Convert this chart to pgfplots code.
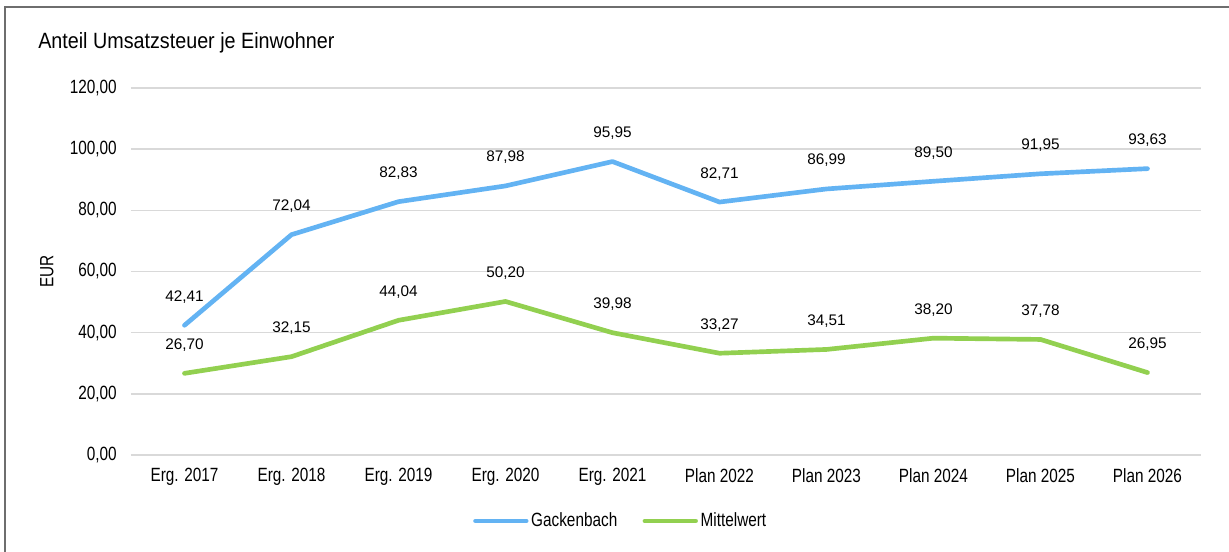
\documentclass[border=0pt]{standalone}
\usepackage{fontspec}
\setmainfont{Liberation Sans}
\usepackage{graphicx}
\usepackage{pgfplots}
\pgfplotsset{compat=1.18}
\usepackage{pgfplotstable}
\definecolor{gblue}{RGB}{99,179,243}
\definecolor{mgreen}{RGB}{146,208,80}
\definecolor{gridgray}{RGB}{217,217,217}
\definecolor{framegray}{RGB}{110,110,110}
\newcommand{\lbl}{\fontsize{11.5}{13.8}\selectfont}
\newcommand{\st}[1]{\scalebox{1}[1.25]{#1}}

\pgfplotstableread{
x y
0 42.41
1 72.04
2 82.83
3 87.98
4 95.95
5 82.71
6 86.99
7 89.50
8 91.95
9 93.63
}\gacken

\pgfplotstableread{
x y
0 26.70
1 32.15
2 44.04
3 50.20
4 39.98
5 33.27
6 34.51
7 38.20
8 37.78
9 26.95
}\mittel

\begin{document}
\begin{tikzpicture}
\useasboundingbox (-98.25pt,-72.75pt) rectangle (823.5pt,341.25pt);
\draw[framegray, line width=1.2pt] (-94.5pt,-80pt) -- (-94.5pt,336pt) -- (830pt,336pt);
\node[anchor=west, font=\fontsize{14.8}{17}\selectfont, inner sep=0pt] at (-69.75pt,309pt) {\scalebox{1}[1.12]{Anteil Umsatzsteuer je Einwohner}};
\node[rotate=90, font=\lbl, inner sep=0pt] at (-63pt,137.6pt) {\st{EUR}};
\begin{axis}[
  scale only axis, width=802.5pt, height=275.25pt,
  at={(0pt,0pt)}, anchor=south west,
  xmin=-0.5, xmax=9.5, ymin=0, ymax=120,
  ytick={0,20,40,60,80,100,120},
  xtick={0,1,2,3,4,5,6,7,8,9},
  xticklabels={\st{Erg. 2017},\st{Erg. 2018},\st{Erg. 2019},\st{Erg. 2020},\st{Erg. 2021},\st{Plan 2022},\st{Plan 2023},\st{Plan 2024},\st{Plan 2025},\st{Plan 2026}},
  yticklabel={\st{\pgfmathprintnumber{\tick}}},
  axis line style={draw=none},
  major tick length=0pt, tick style={draw=none},
  ymajorgrids, grid style={gridgray, line width=1.2pt},
  extra y ticks={0}, extra y tick labels={},
  extra y tick style={grid style={gridgray, line width=2pt}},
  /pgf/number format/fixed, /pgf/number format/fixed zerofill,
  /pgf/number format/precision=2, /pgf/number format/use comma,
  /pgf/number format/assume math mode=true,
  tick label style={font=\lbl, text=black},
  yticklabel style={anchor=east, inner sep=0pt, xshift=-10.5pt},
  xticklabel style={anchor=north, inner sep=0pt, yshift=-10pt},
  clip=false,
  nodes near coords={\st{\pgfmathprintnumber{\pgfplotspointmeta}}},
  every node near coord/.append style={font=\lbl, text=black, inner sep=0pt, yshift=14.8pt},
  legend style={at={(0.458,-0.1798)}, anchor=center, draw=none, fill=none,
    legend columns=2, font=\lbl,
    /tikz/every even column/.append style={column sep=17pt}},
  legend image code/.code={\draw[#1, line cap=round] (0pt,0pt) -- (38pt,0pt);},
]
\addplot[gblue, line width=3.5pt, line cap=round, line join=round, nodes near coords, point meta=y] table {\gacken};
\addlegendentry{\st{Gackenbach}}
\addplot[mgreen, line width=3.5pt, line cap=round, line join=round, nodes near coords, point meta=y] table {\mittel};
\addlegendentry{\st{Mittelwert}}
\end{axis}
\end{tikzpicture}
\end{document}
